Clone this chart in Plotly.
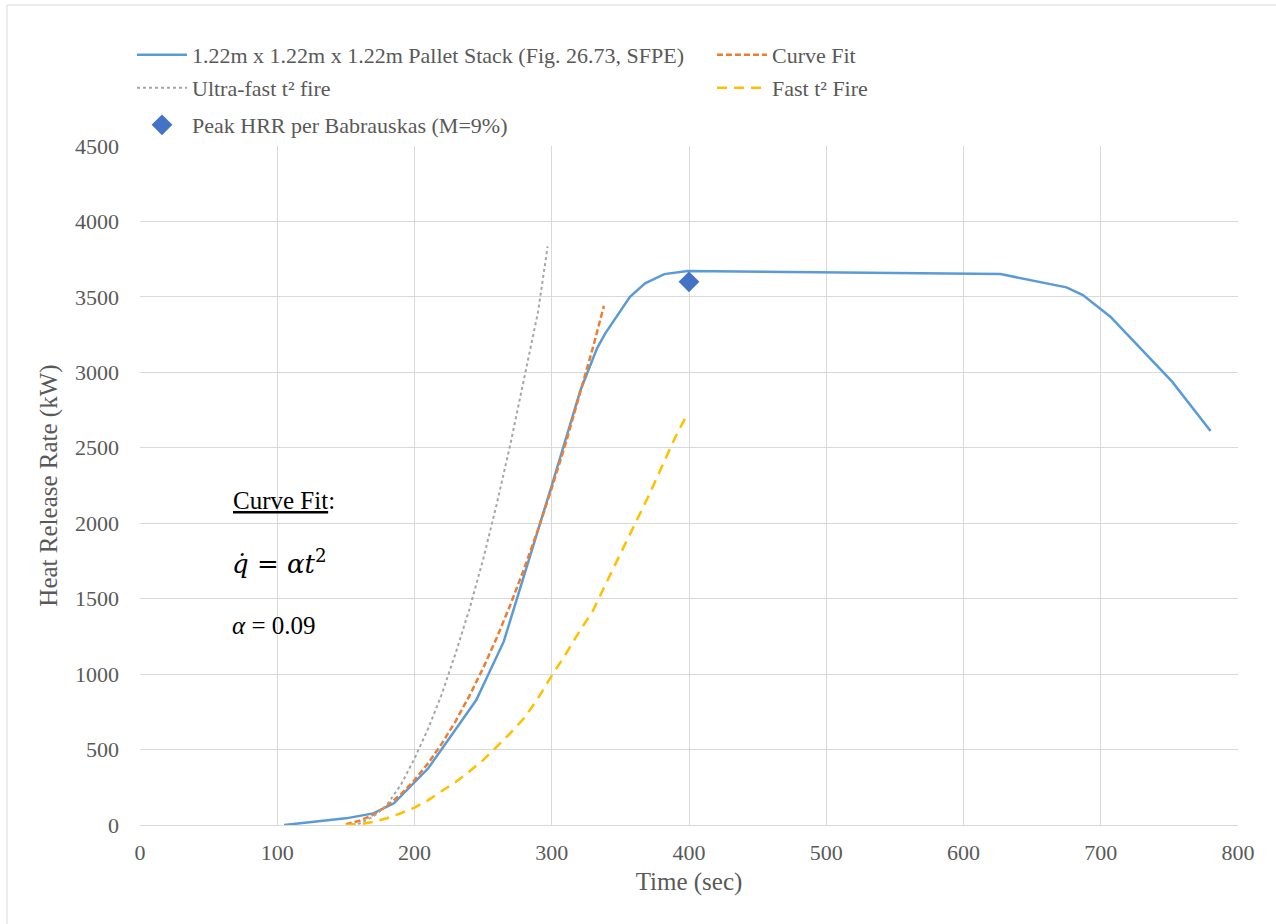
import plotly.graph_objects as go

# ---------------- data ----------------
pallet_t = [105, 150, 170, 185, 210, 245, 265, 279, 300, 321, 333, 339, 357, 368, 382, 399, 500, 627, 675, 687, 707, 752, 780]
pallet_q = [0, 44, 77, 144, 376, 828, 1215, 1624, 2250, 2883, 3159, 3258, 3501, 3590, 3651, 3671, 3660, 3651, 3563, 3512, 3369, 2938, 2611]

fit_t = [150, 160, 170, 180, 190, 200, 210, 220, 230, 240, 250, 260, 270, 280, 290, 300, 310, 320, 330, 338]
fit_q = [5, 28, 68, 127, 203, 298, 410, 541, 689, 856, 1040, 1243, 1463, 1702, 1958, 2233, 2525, 2836, 3164, 3440]

ultra_t = [150, 160, 170, 180, 190, 200, 210, 220, 230, 240, 250, 260, 270, 280, 290, 297]
ultra_q = [0, 10, 55, 135, 265, 440, 640, 870, 1140, 1430, 1760, 2130, 2530, 2960, 3400, 3835]

fast_t = [150, 160, 170, 180, 190, 200, 210, 220, 230, 240, 250, 260, 270, 280, 290, 300, 310, 320, 330, 340, 350, 360, 370, 380, 390, 398]
fast_q = [0, 5, 20, 45, 78, 115, 165, 225, 285, 355, 430, 520, 610, 710, 840, 990, 1130, 1280, 1420, 1610, 1795, 1985, 2170, 2370, 2570, 2710]

peak_t = [400]
peak_q = [3600]

x_ticks = [0, 100, 200, 300, 400, 500, 600, 700, 800]
y_ticks = [0, 500, 1000, 1500, 2000, 2500, 3000, 3500, 4000, 4500]

names = [
    "1.22m x 1.22m x 1.22m Pallet Stack (Fig. 26.73, SFPE)",
    "Curve Fit",
    "Ultra-fast t² fire",
    "Fast t² Fire",
    "Peak HRR per Babrauskas (M=9%)",
]

# ---------------- figure ----------------
W, H = 1276, 924
L, R, T, B = 140, 38, 146, 99
PW, PH = W - L - R, H - T - B

def px(xp):
    return (xp - L) / PW

def py(yp):
    return (H - B - yp) / PH

SERIF = "Liberation Serif"
GREY_TXT = "#595959"

fig = go.Figure()
fig.add_trace(go.Scatter(x=pallet_t, y=pallet_q, mode="lines", name=names[0],
                         line=dict(color="#5B9BD5", width=2.5), legend="legend"))
fig.add_trace(go.Scatter(x=fit_t, y=fit_q, mode="lines", name=names[1],
                         line=dict(color="#ED7D31", width=2.5, dash="6px,3px"), legend="legend4"))
fig.add_trace(go.Scatter(x=ultra_t, y=ultra_q, mode="lines", name=names[2],
                         line=dict(color="#A5A5A5", width=2, dash="dot"), legend="legend2"))
fig.add_trace(go.Scatter(x=fast_t, y=fast_q, mode="lines", name=names[3],
                         line=dict(color="#FFC000", width=2.5, dash="10px,7px"), legend="legend5"))
fig.add_trace(go.Scatter(x=peak_t, y=peak_q, mode="markers", name=names[4],
                         marker=dict(symbol="diamond", size=16, color="#4472C4"), legend="legend3"))

leg_common = dict(orientation="h", xanchor="left", yanchor="middle",
                  font=dict(family=SERIF, size=22, color=GREY_TXT),
                  bgcolor="rgba(0,0,0,0)", itemwidth=50, visible=True)

fig.update_layout(
    width=W, height=H,
    showlegend=True,
    margin=dict(l=L, r=R, t=T, b=B),
    paper_bgcolor="white", plot_bgcolor="white",
    font=dict(family=SERIF, color=GREY_TXT),
    legend=dict(x=px(132), y=py(55), **leg_common),
    legend4=dict(x=px(712), y=py(55), **leg_common),
    legend2=dict(x=px(132), y=py(88), **leg_common),
    legend5=dict(x=px(712), y=py(88), **leg_common),
    legend3=dict(x=px(132), y=py(125), **leg_common),
    xaxis=dict(range=[0, 800], tickvals=x_ticks, showgrid=True, gridcolor="#D9D9D9",
               gridwidth=1, zeroline=False, showline=True, linecolor="#D9D9D9", linewidth=1,
               tickfont=dict(family=SERIF, size=22, color=GREY_TXT), ticklabelstandoff=8,
               title=dict(text="Time (sec)", font=dict(family=SERIF, size=25, color=GREY_TXT), standoff=8)),
    yaxis=dict(range=[0, 4500], tickvals=y_ticks, showgrid=True, gridcolor="#D9D9D9",
               gridwidth=1, zeroline=False, showline=False,
               tickfont=dict(family=SERIF, size=22, color=GREY_TXT), ticklabelstandoff=20,
               title=dict(text="Heat Release Rate (kW)", font=dict(family=SERIF, size=25, color=GREY_TXT), standoff=10)),
    shapes=[dict(type="rect", xref="paper", yref="paper",
                 x0=px(7), x1=px(1290), y0=py(940), y1=py(5),
                 line=dict(color="#D9D9D9", width=1), fillcolor="rgba(0,0,0,0)", layer="below")],
    annotations=[
        dict(text="<u>Curve Fit</u>:", xref="paper", yref="paper", x=px(231), y=py(501),
             xanchor="left", yanchor="middle", showarrow=False,
             font=dict(family=SERIF, size=25, color="black")),
        dict(text="<i>q̇</i> = <i>αt</i><sup>2</sup>", xref="paper", yref="paper", x=px(230), y=py(562),
             xanchor="left", yanchor="middle", showarrow=False,
             font=dict(family="DejaVu Serif", size=26, color="black")),
        dict(text="<i>α</i> = 0.09", xref="paper", yref="paper", x=px(230), y=py(625),
             xanchor="left", yanchor="middle", showarrow=False,
             font=dict(family=SERIF, size=25, color="black")),
    ],
)

fig.write_html("out.html")
